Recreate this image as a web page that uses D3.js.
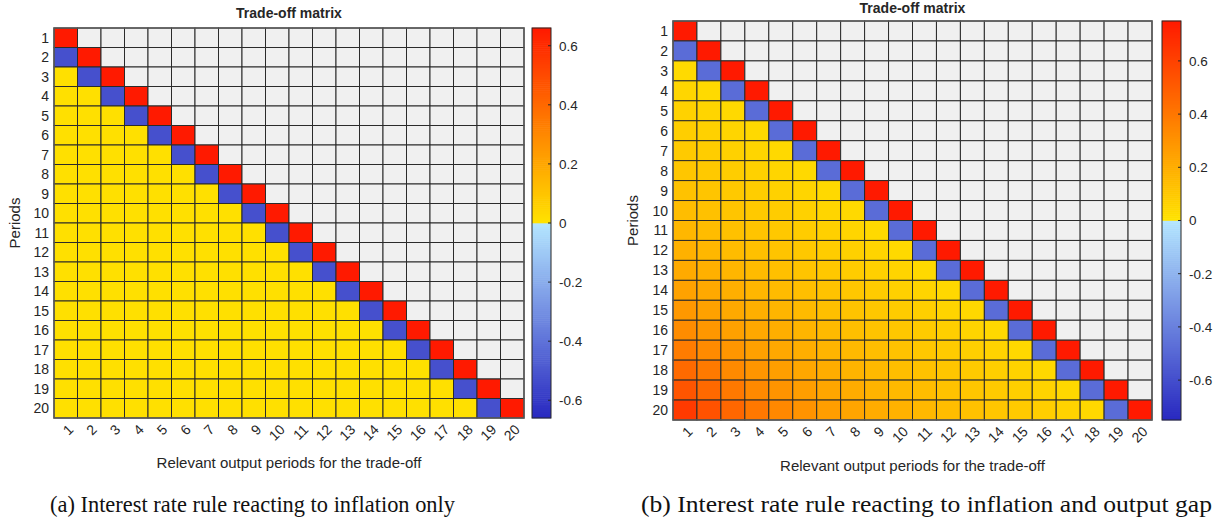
<!DOCTYPE html>
<html><head><meta charset="utf-8">
<script src="https://cdn.jsdelivr.net/npm/d3@7"></script>
<style>body{margin:0;background:#fff}svg{display:block}.sans{font-family:"Liberation Sans",Arial,sans-serif}.serif{font-family:"Liberation Serif","DejaVu Serif",serif}</style>
</head><body>
<svg id="chart" width="1221" height="531"></svg>
<script>
const periods = d3.range(1, 21).map(String);
const colorbarTicks = [-0.6, -0.4, -0.2, 0, 0.2, 0.4, 0.6];
const titleText = "Trade-off matrix";
const yLabel = "Periods";
const xLabel = "Relevant output periods for the trade-off";
const captionA = "(a) Interest rate rule reacting to inflation only";
const captionB = "(b) Interest rate rule reacting to inflation and output gap";

// Panel (a): row i holds columns 1..i (upper triangle empty)
const matrixA = [
 [0.66],
 [-0.52,0.66],
 [0.01,-0.52,0.66],
 [0.01,0.01,-0.52,0.66],
 [0.01,0.01,0.01,-0.52,0.66],
 [0.01,0.01,0.01,0.01,-0.52,0.66],
 [0.01,0.01,0.01,0.01,0.01,-0.52,0.66],
 [0.01,0.01,0.01,0.01,0.01,0.01,-0.52,0.66],
 [0.01,0.01,0.01,0.01,0.01,0.01,0.01,-0.52,0.66],
 [0.01,0.01,0.01,0.01,0.01,0.01,0.01,0.01,-0.52,0.66],
 [0.01,0.01,0.01,0.01,0.01,0.01,0.01,0.01,0.01,-0.52,0.66],
 [0.01,0.01,0.01,0.01,0.01,0.01,0.01,0.01,0.01,0.01,-0.52,0.66],
 [0.01,0.01,0.01,0.01,0.01,0.01,0.01,0.01,0.01,0.01,0.01,-0.52,0.66],
 [0.01,0.01,0.01,0.01,0.01,0.01,0.01,0.01,0.01,0.01,0.01,0.01,-0.52,0.66],
 [0.01,0.01,0.01,0.01,0.01,0.01,0.01,0.01,0.01,0.01,0.01,0.01,0.01,-0.52,0.66],
 [0.01,0.01,0.01,0.01,0.01,0.01,0.01,0.01,0.01,0.01,0.01,0.01,0.01,0.01,-0.52,0.66],
 [0.01,0.01,0.01,0.01,0.01,0.01,0.01,0.01,0.01,0.01,0.01,0.01,0.01,0.01,0.01,-0.52,0.66],
 [0.01,0.01,0.01,0.01,0.01,0.01,0.01,0.01,0.01,0.01,0.01,0.01,0.01,0.01,0.01,0.01,-0.52,0.66],
 [0.01,0.01,0.01,0.01,0.01,0.01,0.01,0.01,0.01,0.01,0.01,0.01,0.01,0.01,0.01,0.01,0.01,-0.52,0.66],
 [0.01,0.01,0.01,0.01,0.01,0.01,0.01,0.01,0.01,0.01,0.01,0.01,0.01,0.01,0.01,0.01,0.01,0.01,-0.52,0.66]
];

// Panel (b)
const matrixB = [
 [0.75],
 [-0.48,0.75],
 [0.035,-0.48,0.75],
 [0.05,0.035,-0.48,0.75],
 [0.065,0.051,0.036,-0.48,0.75],
 [0.08,0.066,0.051,0.036,-0.48,0.75],
 [0.095,0.081,0.067,0.052,0.037,-0.48,0.75],
 [0.11,0.096,0.082,0.067,0.052,0.037,-0.48,0.75],
 [0.125,0.111,0.097,0.083,0.068,0.053,0.038,-0.48,0.75],
 [0.143,0.127,0.113,0.098,0.084,0.069,0.054,0.038,-0.48,0.75],
 [0.163,0.145,0.128,0.114,0.10,0.085,0.07,0.054,0.038,-0.48,0.75],
 [0.188,0.165,0.146,0.13,0.115,0.101,0.086,0.07,0.055,0.039,-0.48,0.75],
 [0.212,0.19,0.167,0.148,0.131,0.117,0.102,0.087,0.071,0.055,0.039,-0.48,0.75],
 [0.242,0.215,0.193,0.169,0.15,0.133,0.118,0.103,0.088,0.072,0.056,0.04,-0.48,0.75],
 [0.28,0.245,0.217,0.195,0.171,0.152,0.134,0.119,0.104,0.089,0.073,0.057,0.04,-0.48,0.75],
 [0.325,0.283,0.248,0.22,0.197,0.173,0.153,0.136,0.121,0.105,0.09,0.074,0.057,0.04,-0.48,0.75],
 [0.385,0.329,0.287,0.251,0.222,0.199,0.175,0.155,0.137,0.122,0.106,0.091,0.074,0.058,0.041,-0.48,0.75],
 [0.45,0.39,0.333,0.29,0.254,0.225,0.202,0.177,0.157,0.139,0.123,0.108,0.092,0.075,0.058,0.041,-0.48,0.75],
 [0.53,0.455,0.394,0.337,0.293,0.257,0.227,0.204,0.179,0.158,0.14,0.125,0.109,0.092,0.076,0.059,0.042,-0.48,0.75],
 [0.63,0.54,0.461,0.399,0.341,0.297,0.259,0.23,0.206,0.181,0.16,0.142,0.126,0.11,0.093,0.077,0.06,0.042,-0.48,0.75]
];

const panels = [
  {m: matrixA, lim: 0.66, x0: 54, x1: 524, y0: 28, y1: 418, cbx: 532, cbw: 19, titleY: 18, xLabY: 468, yLabX: 20, caption: captionA, capX: 50, capW: 405},
  {m: matrixB, lim: 0.75, x0: 673, x1: 1152, y0: 21, y1: 420, cbx: 1162, cbw: 19, titleY: 13, xLabY: 471, yLabX: 638, caption: captionB, capX: 641, capW: 571}
];

const posInterp = d3.interpolateRgb("#ffe300", "#ff1a00");
const negInterp = d3.interpolateRgb("#b4e6ff", "#2828c0");
function colorFor(v, lim) {
  const t = Math.max(-1, Math.min(1, v / lim));
  return t >= 0 ? posInterp(t) : negInterp(-t);
}

const svg = d3.select("#chart");
const ink = "#262626";

panels.forEach(p => {
  const g = svg.append("g").attr("class", "sans");
  const x = d3.scaleBand().domain(periods).range([p.x0, p.x1]);
  const y = d3.scaleBand().domain(periods).range([p.y0, p.y1]);
  const cells = [];
  periods.forEach((r, i) => periods.forEach((c, j) => {
    cells.push({r, c, v: j < p.m[i].length ? p.m[i][j] : null});
  }));
  g.selectAll("rect.cell").data(cells).join("rect")
    .attr("x", d => x(d.c)).attr("y", d => y(d.r))
    .attr("width", x.bandwidth()).attr("height", y.bandwidth())
    .attr("fill", d => d.v === null ? "#f0f0f0" : colorFor(d.v, p.lim))
    .attr("stroke", "#2b2b2b").attr("stroke-width", 1);
  g.append("rect").attr("x", p.x0).attr("y", p.y0).attr("width", p.x1 - p.x0).attr("height", p.y1 - p.y0)
    .attr("fill", "none").attr("stroke", "#5a5a5a").attr("stroke-width", 1.5);

  g.selectAll("text.yt").data(periods).join("text")
    .attr("x", p.x0 - 5).attr("y", d => y(d) + y.bandwidth() / 2)
    .attr("text-anchor", "end").attr("dominant-baseline", "central")
    .attr("font-size", 14).attr("fill", ink).text(d => d);
  g.selectAll("text.xt").data(periods).join("text")
    .attr("transform", d => `translate(${x(d) + x.bandwidth() / 2 + 5},${p.y1 + 9}) rotate(-45)`)
    .attr("text-anchor", "end").attr("dominant-baseline", "central")
    .attr("font-size", 14).attr("fill", ink).text(d => d);

  g.append("text").attr("x", (p.x0 + p.x1) / 2).attr("y", p.titleY)
    .attr("text-anchor", "middle").attr("font-size", 14).attr("font-weight", "bold").attr("fill", ink).text(titleText);
  g.append("text").attr("transform", `translate(${p.yLabX},${(p.y0 + p.y1) / 2}) rotate(-90)`)
    .attr("text-anchor", "middle").attr("font-size", 15).attr("fill", ink).text(yLabel);
  g.append("text").attr("x", (p.x0 + p.x1) / 2).attr("y", p.xLabY)
    .attr("text-anchor", "middle").attr("font-size", 15).attr("fill", ink).text(xLabel);

  const cy = d3.scaleLinear().domain([-p.lim, p.lim]).range([p.y1, p.y0]);
  const steps = d3.range(0, 200).map(k => -p.lim + (k + 0.5) * (2 * p.lim / 200));
  const stepH = (p.y1 - p.y0) / 200;
  g.selectAll("rect.cb").data(steps).join("rect")
    .attr("x", p.cbx).attr("width", p.cbw)
    .attr("y", d => cy(d) - stepH / 2 - 0.3).attr("height", stepH + 0.6)
    .attr("fill", d => colorFor(d, p.lim));
  g.append("rect").attr("x", p.cbx).attr("y", p.y0).attr("width", p.cbw).attr("height", p.y1 - p.y0)
    .attr("fill", "none").attr("stroke", "#262626").attr("stroke-width", 1);
  const axis = d3.axisRight(cy).tickValues(colorbarTicks).tickSize(0).tickPadding(8)
    .tickFormat(d => d === 0 ? "0" : d3.format(".1f")(d).replace("\u2212", "-"));
  const ag = g.append("g").attr("transform", `translate(${p.cbx + p.cbw},0)`).call(axis);
  ag.attr("font-family", null);
  ag.select(".domain").remove();
  ag.selectAll("text").attr("font-size", 13.5).attr("fill", ink);
  g.selectAll("line.cbt").data(colorbarTicks).join("line")
    .attr("x1", p.cbx + p.cbw - 3).attr("x2", p.cbx + p.cbw)
    .attr("y1", d => cy(d)).attr("y2", d => cy(d)).attr("stroke", "#262626");

  svg.append("text").attr("class", "serif").attr("x", p.capX).attr("y", 512)
    .attr("font-size", 23).attr("fill", "#111")
    .attr("textLength", p.capW).attr("lengthAdjust", "spacingAndGlyphs").text(p.caption);
});
</script>
</body></html>
